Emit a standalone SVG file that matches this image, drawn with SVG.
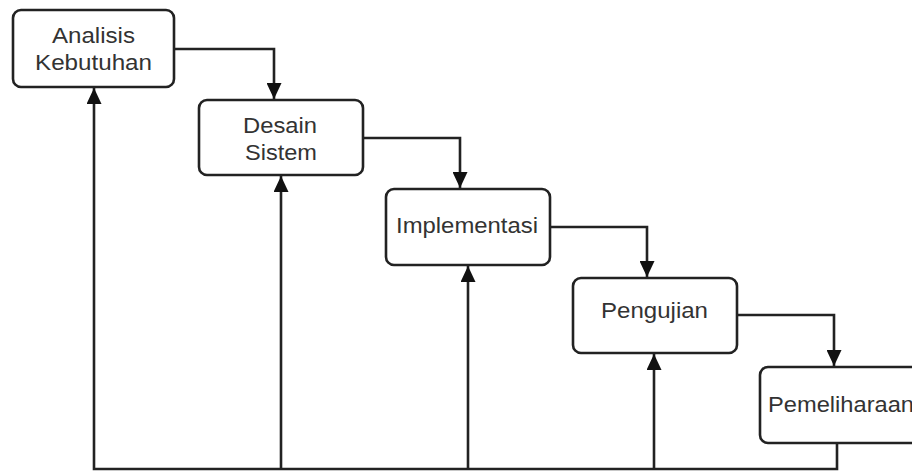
<svg xmlns="http://www.w3.org/2000/svg" width="912" height="476" viewBox="0 0 912 476">
<defs>
<style>
.box{fill:#fff;stroke:#222;stroke-width:2.6}
.lbl{font-family:"Liberation Sans",Arial,sans-serif;font-size:22px;fill:#333;text-anchor:start}
.con{fill:none;stroke:#222;stroke-width:2.6}
</style>
<marker id="ah" markerUnits="userSpaceOnUse" markerWidth="17" markerHeight="15" refX="16" refY="7.5" orient="auto" viewBox="0 0 17 15">
<path d="M0,0 L16,7.5 L0,15 z" fill="#111"/>
</marker>
</defs>
<rect width="912" height="476" fill="#fff"/>
<g id="connectors">
<path class="con" d="M174,49 H274 V99" marker-end="url(#ah)"/>
<path class="con" d="M363,138 H460 V188" marker-end="url(#ah)"/>
<path class="con" d="M550,227 H647 V277" marker-end="url(#ah)"/>
<path class="con" d="M737,315 H834 V366" marker-end="url(#ah)"/>
<path class="con" d="M837,443 V469 H94 V88" marker-end="url(#ah)"/>
<path class="con" d="M281,469 V176" marker-end="url(#ah)"/>
<path class="con" d="M468,469 V266" marker-end="url(#ah)"/>
<path class="con" d="M654,469 V354" marker-end="url(#ah)"/>
</g>
<g id="analisis">
<rect class="box" x="13" y="10" width="161" height="77" rx="8"/>
<text class="lbl" x="52" y="43" textLength="83" lengthAdjust="spacingAndGlyphs">Analisis</text>
<text class="lbl" x="35" y="70" textLength="117" lengthAdjust="spacingAndGlyphs">Kebutuhan</text>
</g>
<g id="desain">
<rect class="box" x="199" y="100" width="164" height="75" rx="8"/>
<text class="lbl" x="243" y="133" textLength="74" lengthAdjust="spacingAndGlyphs">Desain</text>
<text class="lbl" x="245" y="160" textLength="72" lengthAdjust="spacingAndGlyphs">Sistem</text>
</g>
<g id="implementasi">
<rect class="box" x="386" y="189" width="164" height="76" rx="8"/>
<text class="lbl" x="396" y="233" textLength="142" lengthAdjust="spacingAndGlyphs">Implementasi</text>
</g>
<g id="pengujian">
<rect class="box" x="573" y="278" width="164" height="75" rx="8"/>
<text class="lbl" x="601" y="318" textLength="107" lengthAdjust="spacingAndGlyphs">Pengujian</text>
</g>
<g id="pemeliharaan">
<rect class="box" x="760" y="367" width="180" height="76" rx="8"/>
<text class="lbl" x="768" y="412" textLength="146" lengthAdjust="spacingAndGlyphs">Pemeliharaan</text>
</g>
</svg>
